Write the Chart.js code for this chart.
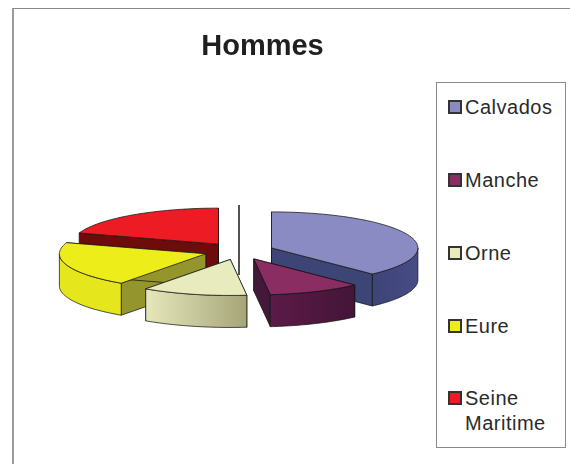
<!DOCTYPE html>
<html lang="fr">
<head>
<meta charset="UTF-8">
<title>Hommes</title>
<script src="https://cdn.jsdelivr.net/npm/chart.js"></script>
<style>
    html, body { margin: 0; padding: 0; background: #fff; }
    body { width: 570px; height: 464px; position: relative; overflow: hidden; font-family: "Liberation Sans", Arial, sans-serif; }
    #cadre { position: absolute; left: 12px; top: 8px; right: 0; bottom: 0; border-left: 2px solid #9a9a9a; border-top: 1px solid #8a8a8a; }
    #zone { position: absolute; left: 0; top: 0; width: 525px; height: 464px; }
    #legende { position: absolute; left: 436px; top: 82px; width: 128px; height: 364px; border: 1px solid #8a8a8a; background: #fff; }
    .item { position: absolute; left: 28px; font-size: 20px; line-height: 25px; color: #2a2a2a; letter-spacing: 0.5px; white-space: pre; }
    .carre { position: absolute; left: 11px; width: 10px; height: 10px; border: 2px solid #333; }
</style>
</head>
<body>
<div id="cadre"></div>
<div id="zone"><canvas id="camembert" width="525" height="464"></canvas></div>
<div id="legende"></div>

<script>
    const categories = ['Calvados', 'Manche', 'Orne', 'Eure', 'Seine Maritime'];
    const valeurs = [37.9, 10.3, 11.6, 20.2, 20.0];
    const couleurs = ['#8b8bc4', '#8a2d62', '#e8ebbd', '#eded1a', '#ed1c24'];

    // couleurs des parois : [gauche, droite] de la paroi extérieure, puis paroi coupée
    const parois = [
        ['#3d4478', '#474c84', '#3d4576'],
        ['#5c1a48', '#431538', '#43183b'],
        ['#e6e8bc', '#a5a578', '#c8c99a'],
        ['#e6e61c', '#e6e61c', '#95952e'],
        ['#7a0c0c', '#7a0c0c', '#6e0b0b']
    ];

    const ECRASEMENT = 0.246;  // aplatissement vertical du disque
    const EPAISSEUR = 32;      // hauteur du camembert en px
    const DECALAGE_X = -23.5;  // le camembert n'est pas centré sous le titre

    // dessine le camembert en 3D à partir des arcs calculés par Chart.js
    const camembert3d = {
        id: 'camembert3d',
        beforeDatasetsDraw(chart) {
            const ctx = chart.ctx;
            const arcs = chart.getDatasetMeta(0).data;
            const ordre = arcs.map((a, i) => i).sort((i, j) => {
                const yi = Math.sin((arcs[i].startAngle + arcs[i].endAngle) / 2);
                const yj = Math.sin((arcs[j].startAngle + arcs[j].endAngle) / 2);
                return yi - yj;
            });

            // trait noir au centre, vu par la tranche
            const c = arcs[0];
            ctx.save();
            ctx.strokeStyle = '#1a1a1a';
            ctx.lineWidth = 1.5;
            ctx.beginPath();
            ctx.moveTo(c.x + DECALAGE_X, c.y - 46);
            ctx.lineTo(c.x + DECALAGE_X, c.y + 24);
            ctx.stroke();
            ctx.restore();

            ordre.forEach(i => {
                const arc = arcs[i];
                const R = arc.outerRadius;
                const milieu = (arc.startAngle + arc.endAngle) / 2;
                const dx = arc.options.offset * Math.cos(milieu);
                const dy = arc.options.offset * Math.sin(milieu);
                const px = (a, r) => arc.x + DECALAGE_X + dx + r * Math.cos(a);
                const py = (a, r) => arc.y + (dy + r * Math.sin(a)) * ECRASEMENT;
                const ax = px(0, 0), ay = py(0, 0);

                ctx.save();
                ctx.lineWidth = 1;
                ctx.strokeStyle = 'rgba(20,20,20,0.75)';
                ctx.lineJoin = 'round';

                // parois coupées
                [arc.startAngle, arc.endAngle].forEach(a => {
                    ctx.beginPath();
                    ctx.moveTo(ax, ay);
                    ctx.lineTo(px(a, R), py(a, R));
                    ctx.lineTo(px(a, R), py(a, R) + EPAISSEUR);
                    ctx.lineTo(ax, ay + EPAISSEUR);
                    ctx.closePath();
                    ctx.fillStyle = parois[i][2];
                    ctx.fill();
                    ctx.stroke();
                });

                // paroi extérieure, partie tournée vers l'avant
                const debut = Math.max(arc.startAngle, 0);
                const fin = Math.min(arc.endAngle, Math.PI);
                if (fin > debut) {
                    const g = ctx.createLinearGradient(px(fin, R), 0, px(debut, R), 0);
                    g.addColorStop(0, parois[i][0]);
                    g.addColorStop(1, parois[i][1]);
                    ctx.beginPath();
                    for (let k = 0; k <= 40; k++) {
                        const a = debut + (fin - debut) * k / 40;
                        ctx.lineTo(px(a, R), py(a, R));
                    }
                    for (let k = 40; k >= 0; k--) {
                        const a = debut + (fin - debut) * k / 40;
                        ctx.lineTo(px(a, R), py(a, R) + EPAISSEUR);
                    }
                    ctx.closePath();
                    ctx.fillStyle = g;
                    ctx.fill();
                    ctx.stroke();
                }

                // dessus
                ctx.beginPath();
                ctx.moveTo(ax, ay);
                for (let k = 0; k <= 60; k++) {
                    const a = arc.startAngle + (arc.endAngle - arc.startAngle) * k / 60;
                    ctx.lineTo(px(a, R), py(a, R));
                }
                ctx.closePath();
                ctx.fillStyle = couleurs[i];
                ctx.fill();
                ctx.stroke();
                ctx.restore();
            });
            return false;
        }
    };

    new Chart(document.getElementById('camembert'), {
        type: 'pie',
        data: {
            labels: categories,
            datasets: [{
                data: valeurs,
                backgroundColor: couleurs,
                offset: 35,
                borderWidth: 0
            }]
        },
        options: {
            responsive: false,
            animation: false,
            layout: { padding: { bottom: 49 } },
            plugins: {
                legend: { display: false },
                tooltip: { enabled: false },
                title: {
                    display: true,
                    text: 'Hommes',
                    color: '#1f1f1f',
                    font: { family: '"Liberation Sans"', size: 29, weight: 'bold', lineHeight: 1.2 },
                    padding: { top: 30, bottom: 22.4 }
                }
            }
        },
        plugins: [camembert3d]
    });

    // légende dans son cadre, à droite
    const hauteurs = [24, 97, 170, 243, 315];
    const legende = document.getElementById('legende');
    categories.forEach((nom, i) => {
        const carre = document.createElement('div');
        carre.className = 'carre';
        carre.style.top = (hauteurs[i] - 7) + 'px';
        carre.style.background = couleurs[i];
        legende.appendChild(carre);
        const item = document.createElement('div');
        item.className = 'item';
        item.style.top = (hauteurs[i] - 12) + 'px';
        item.textContent = nom.replace(' ', '\n');
        legende.appendChild(item);
    });
</script>
</body>
</html>
